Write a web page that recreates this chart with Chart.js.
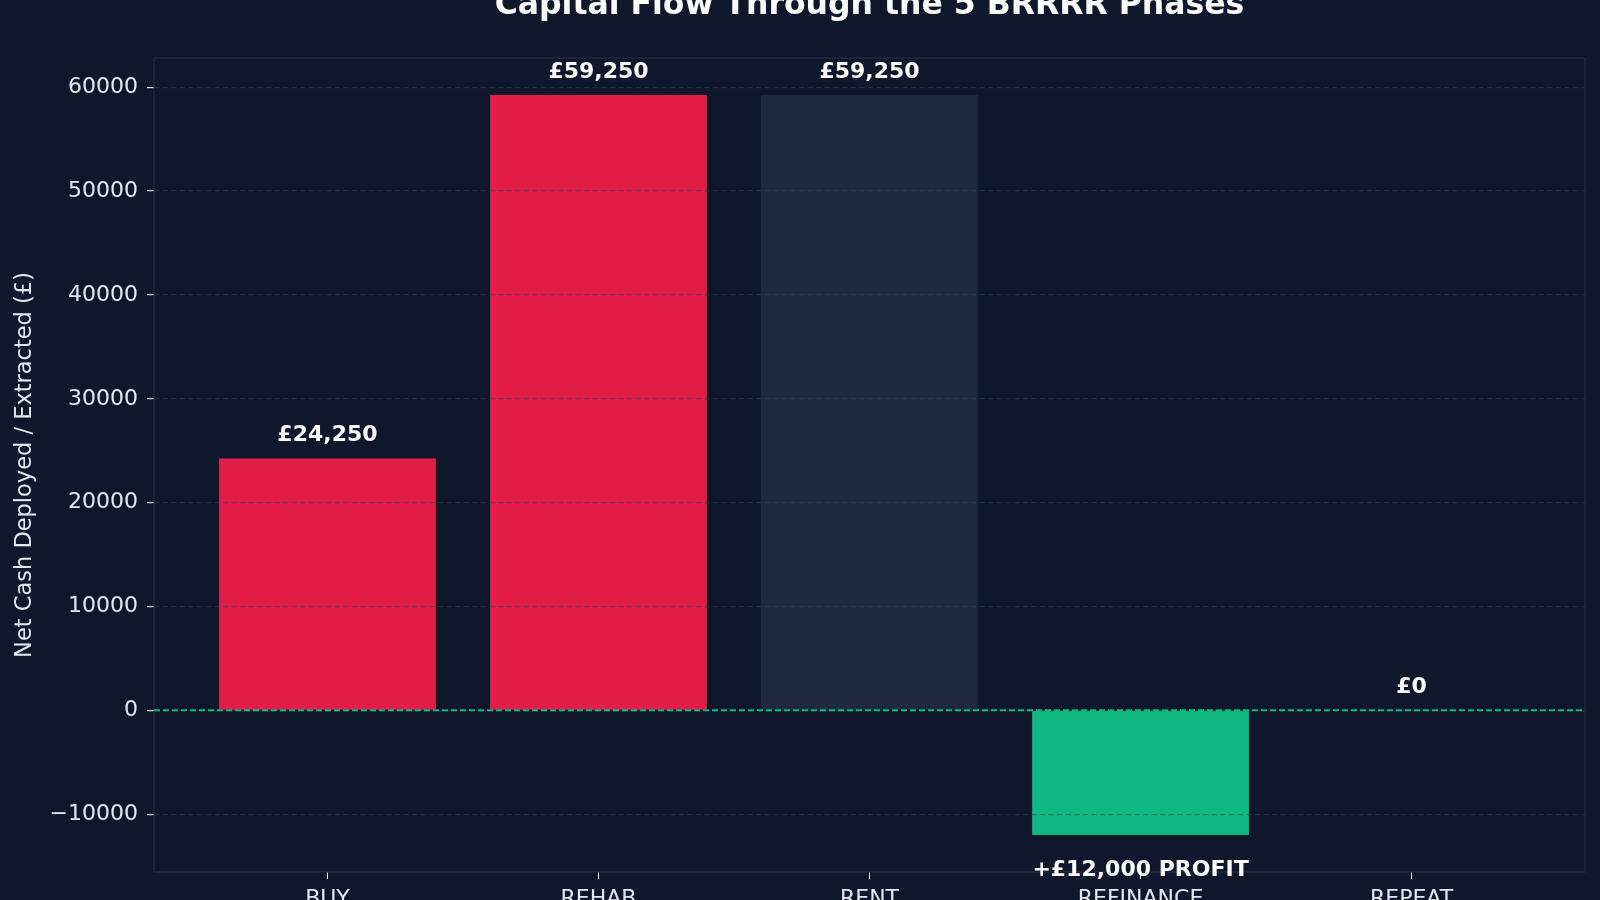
<!DOCTYPE html>
<html lang="en">
<head>
  <meta charset="UTF-8">
  <title>Capital Flow Through the 5 BRRRR Phases</title>
  <script src="https://cdn.jsdelivr.net/npm/chart.js"></script>
  <style>
    html, body { margin: 0; padding: 0; background: #0f172a; }
    #wrap { width: 1600px; height: 900px; position: relative; }
  </style>
</head>
<body>
  <div id="wrap"><canvas id="flowChart"></canvas></div>
  <script>
    // Chart data
    const phases = ['BUY', 'REHAB', 'RENT', 'REFINANCE', 'REPEAT'];
    const netCash = [24250, 59250, 59250, -12000, 0];
    const valueLabels = ['£24,250', '£59,250', '£59,250', '+£12,000 PROFIT', '£0'];
    const barColors = ['#e11d48', '#e11d48', '#1e293b', '#10b981', '#e11d48'];
    const yTicks = [-10000, 0, 10000, 20000, 30000, 40000, 50000, 60000];

    const FONT = '"DejaVu Sans", sans-serif';
    const TEXT = '#e2e8f0';

    // Frame, zero line, title and bar value labels
    const extras = {
      id: 'extras',
      afterDraw(chart) {
        const { ctx, chartArea, scales } = chart;
        const y = scales.y;
        ctx.save();

        // frame around plot
        ctx.strokeStyle = '#263246';
        ctx.lineWidth = 1;
        ctx.strokeRect(chartArea.left, chartArea.top, chartArea.right - chartArea.left, chartArea.bottom - chartArea.top);

        // zero line
        const y0 = y.getPixelForValue(0);
        ctx.strokeStyle = '#10b981';
        ctx.lineWidth = 2;
        ctx.setLineDash([6, 3]);
        ctx.beginPath();
        ctx.moveTo(chartArea.left, y0);
        ctx.lineTo(chartArea.right, y0);
        ctx.stroke();
        ctx.setLineDash([]);

        // title (top edge is cut like the original)
        ctx.fillStyle = '#f8fafc';
        ctx.font = 'bold 31.5px ' + FONT;
        ctx.textAlign = 'center';
        ctx.textBaseline = 'alphabetic';
        ctx.fillText('Capital Flow Through the 5 BRRRR Phases', (chartArea.left + chartArea.right) / 2, 14);

        // value labels
        const meta = chart.getDatasetMeta(0);
        ctx.font = 'bold 22px ' + FONT;
        ctx.textBaseline = 'middle';
        meta.data.forEach((bar, i) => {
          const py = y.getPixelForValue(netCash[i]);
          const ly = netCash[i] < 0 ? py + 35 : py - 23;
          ctx.fillText(valueLabels[i], bar.x, ly);
        });
        ctx.restore();
      }
    };

    new Chart(document.getElementById('flowChart'), {
      type: 'bar',
      data: {
        datasets: [{
          data: phases.map((p, i) => ({ x: i, y: netCash[i] })),
          backgroundColor: barColors,
          borderWidth: 0,
          barPercentage: 0.8,
          categoryPercentage: 1.0
        }]
      },
      options: {
        responsive: true,
        maintainAspectRatio: false,
        animation: false,
        layout: { padding: { top: 58, right: 15, bottom: 0, left: 0 } },
        plugins: {
          legend: { display: false },
          title: { display: false },
          tooltip: { enabled: false }
        },
        scales: {
          x: {
            type: 'linear',
            min: -0.64,
            max: 4.64,
            offset: false,
            afterBuildTicks: (s) => { s.ticks = phases.map((p, i) => ({ value: i })); },
            afterFit: (s) => { s.height = 28; },
            grid: { offset: false, drawOnChartArea: false, drawTicks: true, tickLength: 7, tickColor: TEXT },
            border: { display: false },
            ticks: {
              color: TEXT,
              font: { family: FONT, size: 22 },
              padding: 7,
              maxRotation: 0,
              autoSkip: false,
              callback: (v) => phases[v]
            }
          },
          y: {
            min: -15562.5,
            max: 62812.5,
            afterBuildTicks: (s) => { s.ticks = yTicks.map(v => ({ value: v })); },
            afterFit: (s) => { s.width = 154; },
            grid: {
              z: 1,
              color: 'rgba(51, 65, 85, 0.55)',
              lineWidth: 1.2,
              tickLength: 7,
              tickColor: TEXT,
              tickBorderDash: []
            },
            border: { display: false, dash: [5.3, 3.3] },
            ticks: {
              color: TEXT,
              font: { family: FONT, size: 22 },
              padding: 9,
              callback: (v) => v < 0 ? '\u2212' + Math.abs(v) : String(v)
            },
            title: {
              display: true,
              text: 'Net Cash Deployed / Extracted (£)',
              color: TEXT,
              font: { family: FONT, size: 22.5 },
              padding: { top: 12, bottom: 0 }
            }
          }
        }
      },
      plugins: [extras]
    });
  </script>
</body>
</html>
